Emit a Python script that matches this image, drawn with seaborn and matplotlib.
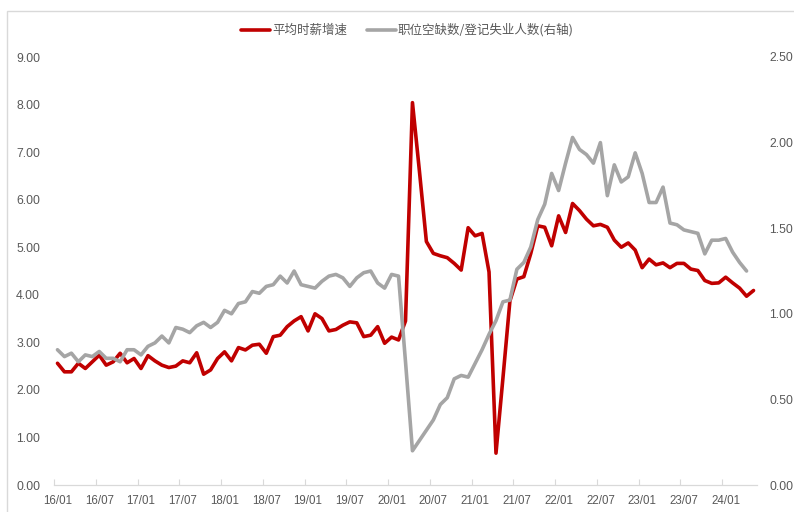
import numpy as np
import pandas as pd
import seaborn as sns
import matplotlib.pyplot as plt
from matplotlib.lines import Line2D
from matplotlib.patches import Rectangle

# monthly, 2016/01 - 2024/05
months = pd.date_range("2016-01-01", periods=101, freq="MS")

# 平均时薪增速 (%), left axis
wage_growth = [
    2.56, 2.38, 2.38, 2.56, 2.45, 2.59, 2.73, 2.52, 2.59, 2.77, 2.57, 2.66,
    2.45, 2.72, 2.61, 2.52, 2.47, 2.50, 2.61, 2.57, 2.78, 2.33, 2.42, 2.66,
    2.80, 2.61, 2.89, 2.84, 2.94, 2.96, 2.77, 3.12, 3.15, 3.33, 3.45, 3.54,
    3.24, 3.60, 3.50, 3.24, 3.27, 3.36, 3.43, 3.41, 3.12, 3.15, 3.33, 2.98,
    3.11, 3.05, 3.45, 8.04, 6.60, 5.12, 4.87, 4.82, 4.78, 4.66, 4.52, 5.41,
    5.24, 5.29, 4.48, 0.67, 2.25, 3.87, 4.33, 4.38, 4.87, 5.45, 5.42, 5.03,
    5.66, 5.31, 5.92, 5.77, 5.59, 5.45, 5.48, 5.42, 5.15, 5.00, 5.09, 4.94,
    4.57, 4.75, 4.63, 4.67, 4.57, 4.66, 4.66, 4.54, 4.51, 4.30, 4.24, 4.25,
    4.37, 4.25, 4.14, 3.97, 4.09,
]

# 职位空缺数/登记失业人数, right axis (ends 2024/04)
vacancy_ratio = [
    0.79, 0.75, 0.77, 0.72, 0.76, 0.75, 0.78, 0.74, 0.74, 0.72, 0.79, 0.79,
    0.76, 0.81, 0.83, 0.87, 0.83, 0.92, 0.91, 0.89, 0.93, 0.95, 0.92, 0.95,
    1.02, 1.00, 1.06, 1.07, 1.13, 1.12, 1.16, 1.17, 1.22, 1.18, 1.25, 1.17,
    1.16, 1.15, 1.19, 1.22, 1.23, 1.21, 1.16, 1.21, 1.24, 1.25, 1.18, 1.15,
    1.23, 1.22, 0.72, 0.20, 0.26, 0.32, 0.38, 0.47, 0.51, 0.62, 0.64, 0.63,
    0.71, 0.79, 0.88, 0.96, 1.07, 1.08, 1.26, 1.30, 1.39, 1.55, 1.64, 1.82,
    1.72, 1.88, 2.03, 1.96, 1.93, 1.88, 2.00, 1.69, 1.87, 1.77, 1.80, 1.94,
    1.82, 1.65, 1.65, 1.74, 1.53, 1.52, 1.49, 1.48, 1.47, 1.35, 1.43, 1.43,
    1.44, 1.36, 1.30, 1.25,
]

label_wage = "平均时薪增速"
label_ratio = "职位空缺数/登记失业人数(右轴)"

red = "#C00000"
grey = "#A5A5A5"
txt = "#595959"

sns.set_theme(style="white")
plt.rcParams["font.family"] = ["Liberation Sans", "Noto Sans CJK SC", "DejaVu Sans"]

idx = np.arange(len(months))

fig = plt.figure(figsize=(7.94, 5.12), dpi=100)
ax = fig.add_axes([54 / 794, 27 / 512, 703 / 794, 428 / 512])
ax2 = ax.twinx()

sns.lineplot(x=idx, y=wage_growth, ax=ax, color=red, linewidth=2.6)
sns.lineplot(x=idx[:len(vacancy_ratio)], y=vacancy_ratio, ax=ax2, color=grey, linewidth=2.6)

ax.set_xlim(-0.5, len(months) - 0.5)
ax.set_ylim(0, 9)
ax2.set_ylim(0, 2.5)
ax.set_yticks(np.arange(0, 9.01, 1))
ax.set_yticklabels([f"{v:.2f}" for v in np.arange(0, 9.01, 1)])
ax2.set_yticks(np.arange(0, 2.51, 0.5))
ax2.set_yticklabels([f"{v:.2f}" for v in np.arange(0, 2.51, 0.5)])

# labels at month centres, tick marks on month boundaries
lab_pos = idx[::6]
ax.set_xticks(lab_pos)
ax.set_xticklabels(months[::6].strftime("%y/%m"))
ax.set_xticks(lab_pos - 0.5, minor=True)
ax.tick_params(axis="x", which="major", length=0, pad=7, labelsize=8.3, colors=txt)
ax.tick_params(axis="x", which="minor", length=4, width=0.8, direction="in",
               color="#D9D9D9", bottom=True)
ax.tick_params(axis="y", length=0, pad=10, labelsize=8.8, colors=txt)
ax2.tick_params(axis="y", length=0, pad=9, labelsize=8.8, colors=txt)

for a in (ax, ax2):
    for side in ("top", "left", "right", "bottom"):
        a.spines[side].set_visible(False)
    a.set_xlabel("")
    a.set_ylabel("")
    a.grid(False)
ax.spines["bottom"].set_visible(True)
ax.spines["bottom"].set_color("#D9D9D9")
ax.spines["bottom"].set_linewidth(0.9)

handles = [Line2D([], [], color=red, linewidth=2.6),
           Line2D([], [], color=grey, linewidth=2.6)]
fig.legend(handles, [label_wage, label_ratio], loc="center", ncol=2,
           bbox_to_anchor=(0.513, 0.941), frameon=False, handlelength=2.3,
           handletextpad=0.15, columnspacing=1.6,
           prop={"family": ["Noto Sans CJK SC", "DejaVu Sans"], "size": 9},
           labelcolor=txt)

# light outer frame
fig.patches.append(Rectangle((7 / 794, -0.05), 1.0, (512 - 11) / 512 + 0.05,
                             transform=fig.transFigure, fill=False,
                             edgecolor="#D9D9D9", linewidth=1.0))

fig.savefig("out.png", dpi=100)
